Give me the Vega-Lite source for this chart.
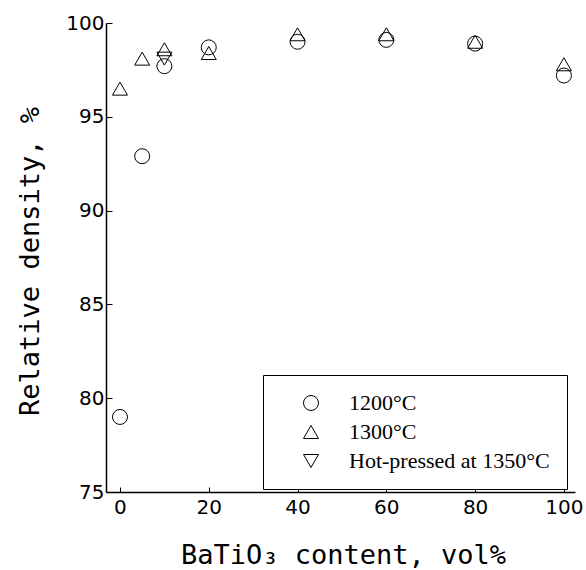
{
  "$schema": "https://vega.github.io/schema/vega-lite/v6.json",
  "width": 469,
  "height": 469,
  "autosize": {"type": "none"},
  "padding": {"left": 106, "top": 23, "right": 11, "bottom": 78},
  "background": "white",
  "config": {
    "view": {"stroke": null},
    "axis": {
      "domainColor": "black",
      "domainWidth": 1.5,
      "tickColor": "black",
      "tickWidth": 1,
      "grid": false,
      "labelFont": "DejaVu Sans",
      "labelFontSize": 20,
      "labelColor": "black",
      "titleFont": "DejaVu Sans Mono",
      "titleFontSize": 27,
      "titleFontWeight": "normal",
      "titleColor": "black"
    }
  },
  "data": {
    "values": [
      {"content": 0, "density": 79.0, "series": "1200°C"},
      {"content": 5, "density": 92.9, "series": "1200°C"},
      {"content": 10, "density": 97.7, "series": "1200°C"},
      {"content": 20, "density": 98.7, "series": "1200°C"},
      {"content": 40, "density": 99.0, "series": "1200°C"},
      {"content": 60, "density": 99.1, "series": "1200°C"},
      {"content": 80, "density": 98.9, "series": "1200°C"},
      {"content": 100, "density": 97.2, "series": "1200°C"},
      {"content": 0, "density": 96.5, "series": "1300°C"},
      {"content": 5, "density": 98.1, "series": "1300°C"},
      {"content": 10, "density": 98.6, "series": "1300°C"},
      {"content": 20, "density": 98.4, "series": "1300°C"},
      {"content": 40, "density": 99.4, "series": "1300°C"},
      {"content": 60, "density": 99.4, "series": "1300°C"},
      {"content": 80, "density": 99.0, "series": "1300°C"},
      {"content": 100, "density": 97.8, "series": "1300°C"},
      {"content": 10, "density": 98.1, "series": "Hot-pressed at 1350°C"}
    ]
  },
  "mark": {"type": "point", "filled": false, "stroke": "black", "strokeWidth": 1, "size": 225, "opacity": 1},
  "encoding": {
    "x": {
      "field": "content",
      "type": "quantitative",
      "scale": {"domain": [-3.15, 102.5], "nice": false, "zero": false},
      "axis": {
        "title": "BaTiO₃ content, vol%",
        "values": [0, 20, 40, 60, 80, 100],
        "tickSize": -5,
        "labelPadding": 10,
        "titleX": 237,
        "titleY": 71,
        "titleBaseline": "alphabetic"
      }
    },
    "y": {
      "field": "density",
      "type": "quantitative",
      "scale": {"domain": [75, 100], "nice": false, "zero": false},
      "axis": {
        "title": "Relative density, %",
        "values": [75, 80, 85, 90, 95, 100],
        "tickSize": -6,
        "labelPadding": 8,
        "titleX": -68,
        "titleY": 238,
        "titleBaseline": "alphabetic"
      }
    },
    "shape": {
      "field": "series",
      "type": "nominal",
      "scale": {
        "domain": ["1200°C", "1300°C", "Hot-pressed at 1350°C"],
        "range": ["circle", "triangle-up", "triangle-down"]
      },
      "legend": {
        "title": null,
        "orient": "none",
        "legendX": 157,
        "legendY": 352,
        "padding": 17,
        "strokeColor": "black",
        "fillColor": "white",
        "symbolSize": 225,
        "symbolStrokeColor": "black",
        "symbolFillColor": "transparent",
        "symbolStrokeWidth": 1,
        "symbolOffset": 20,
        "labelOffset": 27,
        "labelFont": "Liberation Serif",
        "labelFontSize": 22,
        "labelColor": "black",
        "rowPadding": 7,
        "labelLimit": 400
      }
    }
  }
}
